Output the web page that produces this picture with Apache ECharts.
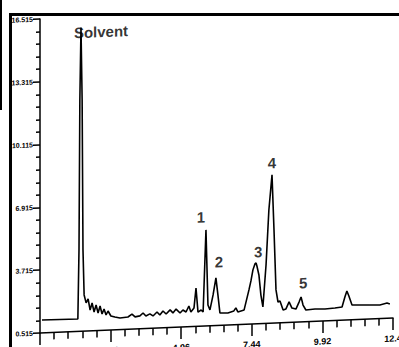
<!DOCTYPE html>
<html>
<head>
<meta charset="utf-8">
<script src="https://cdn.jsdelivr.net/npm/echarts@6/dist/echarts.min.js"></script>
<style>
  html, body { margin: 0; padding: 0; background: #fff; overflow: hidden; }
  /* the recorder trace is slightly sheared: the time axis climbs to the right */
  #chart { position: absolute; left: 0; top: 0; width: 399px; height: 372px; z-index: 1;
           transform: skewY(-2.43deg); transform-origin: 40px 333px; }
  .rule { position: absolute; background: #000; z-index: 5; }
  #edge { left: 0; top: 0; width: 2px; height: 110px; }
  #frameTop { left: 9px; top: 13px; width: 390px; height: 3px; }
  #frameLeft { left: 9px; top: 13px; width: 3px; height: 334px; }
</style>
</head>
<body>
<div id="chart"></div>
<div class="rule" id="edge"></div>
<div class="rule" id="frameTop"></div>
<div class="rule" id="frameLeft"></div>
<script>
// Retention time (min)
const times = [
  0.07, 1.33, 1.37, 1.40, 1.44, 1.48, 1.51, 1.55, 1.62, 1.69,
  1.76, 1.83, 1.90, 1.97, 2.04, 2.11, 2.18, 2.25, 2.32, 2.39,
  2.49, 2.63, 2.81, 3.09, 3.23, 3.34, 3.51, 3.62, 3.72, 3.86,
  3.97, 4.11, 4.21, 4.32, 4.43, 4.57, 4.67, 4.78, 4.92, 5.02,
  5.13, 5.23, 5.30, 5.41, 5.48, 5.55, 5.66, 5.73, 5.83, 5.90,
  5.97, 6.08, 6.18, 6.25, 6.32, 6.60, 6.81, 6.88, 6.95, 7.17,
  7.34, 7.41, 7.48, 7.55, 7.59, 7.62, 7.69, 7.76, 7.83, 7.94,
  8.04, 8.15, 8.22, 8.29, 8.36, 8.43, 8.54, 8.64, 8.75, 8.85,
  8.99, 9.10, 9.17, 9.24, 9.34, 9.66, 10.01, 10.36, 10.61, 10.71,
  10.78, 10.85, 10.96, 11.24, 11.59, 11.94, 12.19, 12.29
];
// Detector response
const signal = [
  1.17, 1.15, 4.67, 12.32, 15.99, 12.31, 4.66, 2.36, 1.95, 2.15,
  1.58, 1.93, 1.47, 1.82, 1.41, 1.76, 1.35, 1.60, 1.29, 1.49,
  1.23, 1.17, 1.11, 1.14, 1.28, 1.13, 1.17, 1.31, 1.15, 1.25,
  1.14, 1.33, 1.17, 1.37, 1.21, 1.41, 1.25, 1.44, 1.23, 1.38,
  1.27, 1.57, 1.26, 1.46, 2.47, 1.24, 1.34, 1.23, 5.41, 1.58,
  1.32, 2.08, 2.94, 2.07, 1.15, 1.13, 1.22, 1.37, 1.16, 1.25,
  2.26, 2.71, 3.27, 3.57, 3.62, 3.46, 3.00, 1.97, 1.36, 3.49,
  6.29, 8.07, 5.26, 2.20, 1.58, 1.63, 1.16, 1.21, 1.56, 1.24,
  1.18, 1.53, 1.79, 1.37, 1.11, 1.14, 1.12, 1.15, 1.19, 1.69,
  1.99, 1.73, 1.27, 1.25, 1.23, 1.21, 1.29, 1.24
];

// Identified peaks
const peakNames = ['Solvent', '1', '2', '3', '4', '5'];
const peakTimes = [1.44, 5.83, 6.18, 7.59, 8.15, 9.17];

// Axis tick labels
const xTickLabels = ['0', '2.48', '4.96', '7.44', '9.92', '12.4'];
const yTickLabels = ['0.515', '3.715', '6.915', '10.115', '13.315', '16.515'];

// label placement relative to each apex
const peakLabelOffsets = [[20, 5], [-5, -13], [3, -16], [2, -11], [0, -12], [2, -14]];

const traceData = times.map((t, i) => [t, signal[i]]);
const peakData = peakTimes.map((t, k) => ({
  value: [t, signal[times.indexOf(t)]],
  label: { formatter: peakNames[k], offset: peakLabelOffsets[k] }
}));

const tickFont = '"Liberation Sans", Arial, sans-serif';
const black = '#000';

const chart = echarts.init(document.getElementById('chart'), null, { renderer: 'svg' });
chart.setOption({
  animation: false,
  backgroundColor: 'transparent',
  grid: { left: 40, right: 6, top: 19, bottom: 39, containLabel: false, outerBoundsMode: 'none' },
  xAxis: {
    type: 'value', min: 0, max: 12.4, interval: 2.48,
    axisLine: { lineStyle: { color: black, width: 1.5 } },
    axisTick: { length: 12, lineStyle: { color: black, width: 1.5 } },
    minorTick: { show: true, splitNumber: 5, length: 7, lineStyle: { color: black, width: 1.5 } },
    splitLine: { show: false },
    axisLabel: {
      formatter: (v, i) => xTickLabels[i] !== undefined ? xTickLabels[i] : '',
      color: black, fontSize: 9, fontWeight: 'bold', fontFamily: tickFont, margin: 16
    }
  },
  yAxis: {
    type: 'value', min: 0.515, max: 16.515, interval: 3.2,
    axisLine: { show: true, lineStyle: { color: black, width: 1.5 } },
    axisTick: { show: true, length: 7, lineStyle: { color: black, width: 1.5 } },
    minorTick: { show: true, splitNumber: 5, length: 4, lineStyle: { color: black, width: 1.5 } },
    splitLine: { show: false },
    axisLabel: {
      formatter: (v, i) => yTickLabels[i] !== undefined ? yTickLabels[i] : '',
      color: black, fontSize: 7, fontWeight: 'bold', fontFamily: tickFont, margin: 7
    }
  },
  series: [
    {
      type: 'line',
      data: traceData,
      showSymbol: false,
      lineStyle: { color: black, width: 1.6 },
      z: 2
    },
    {
      type: 'scatter',
      data: peakData,
      symbolSize: 0,
      z: 3,
      label: {
        show: true,
        position: 'inside',
        color: black,
        fontSize: 15,
        fontWeight: 'bold',
        fontFamily: '"Liberation Sans", Arial, sans-serif'
      }
    }
  ]
});
</script>
</body>
</html>
